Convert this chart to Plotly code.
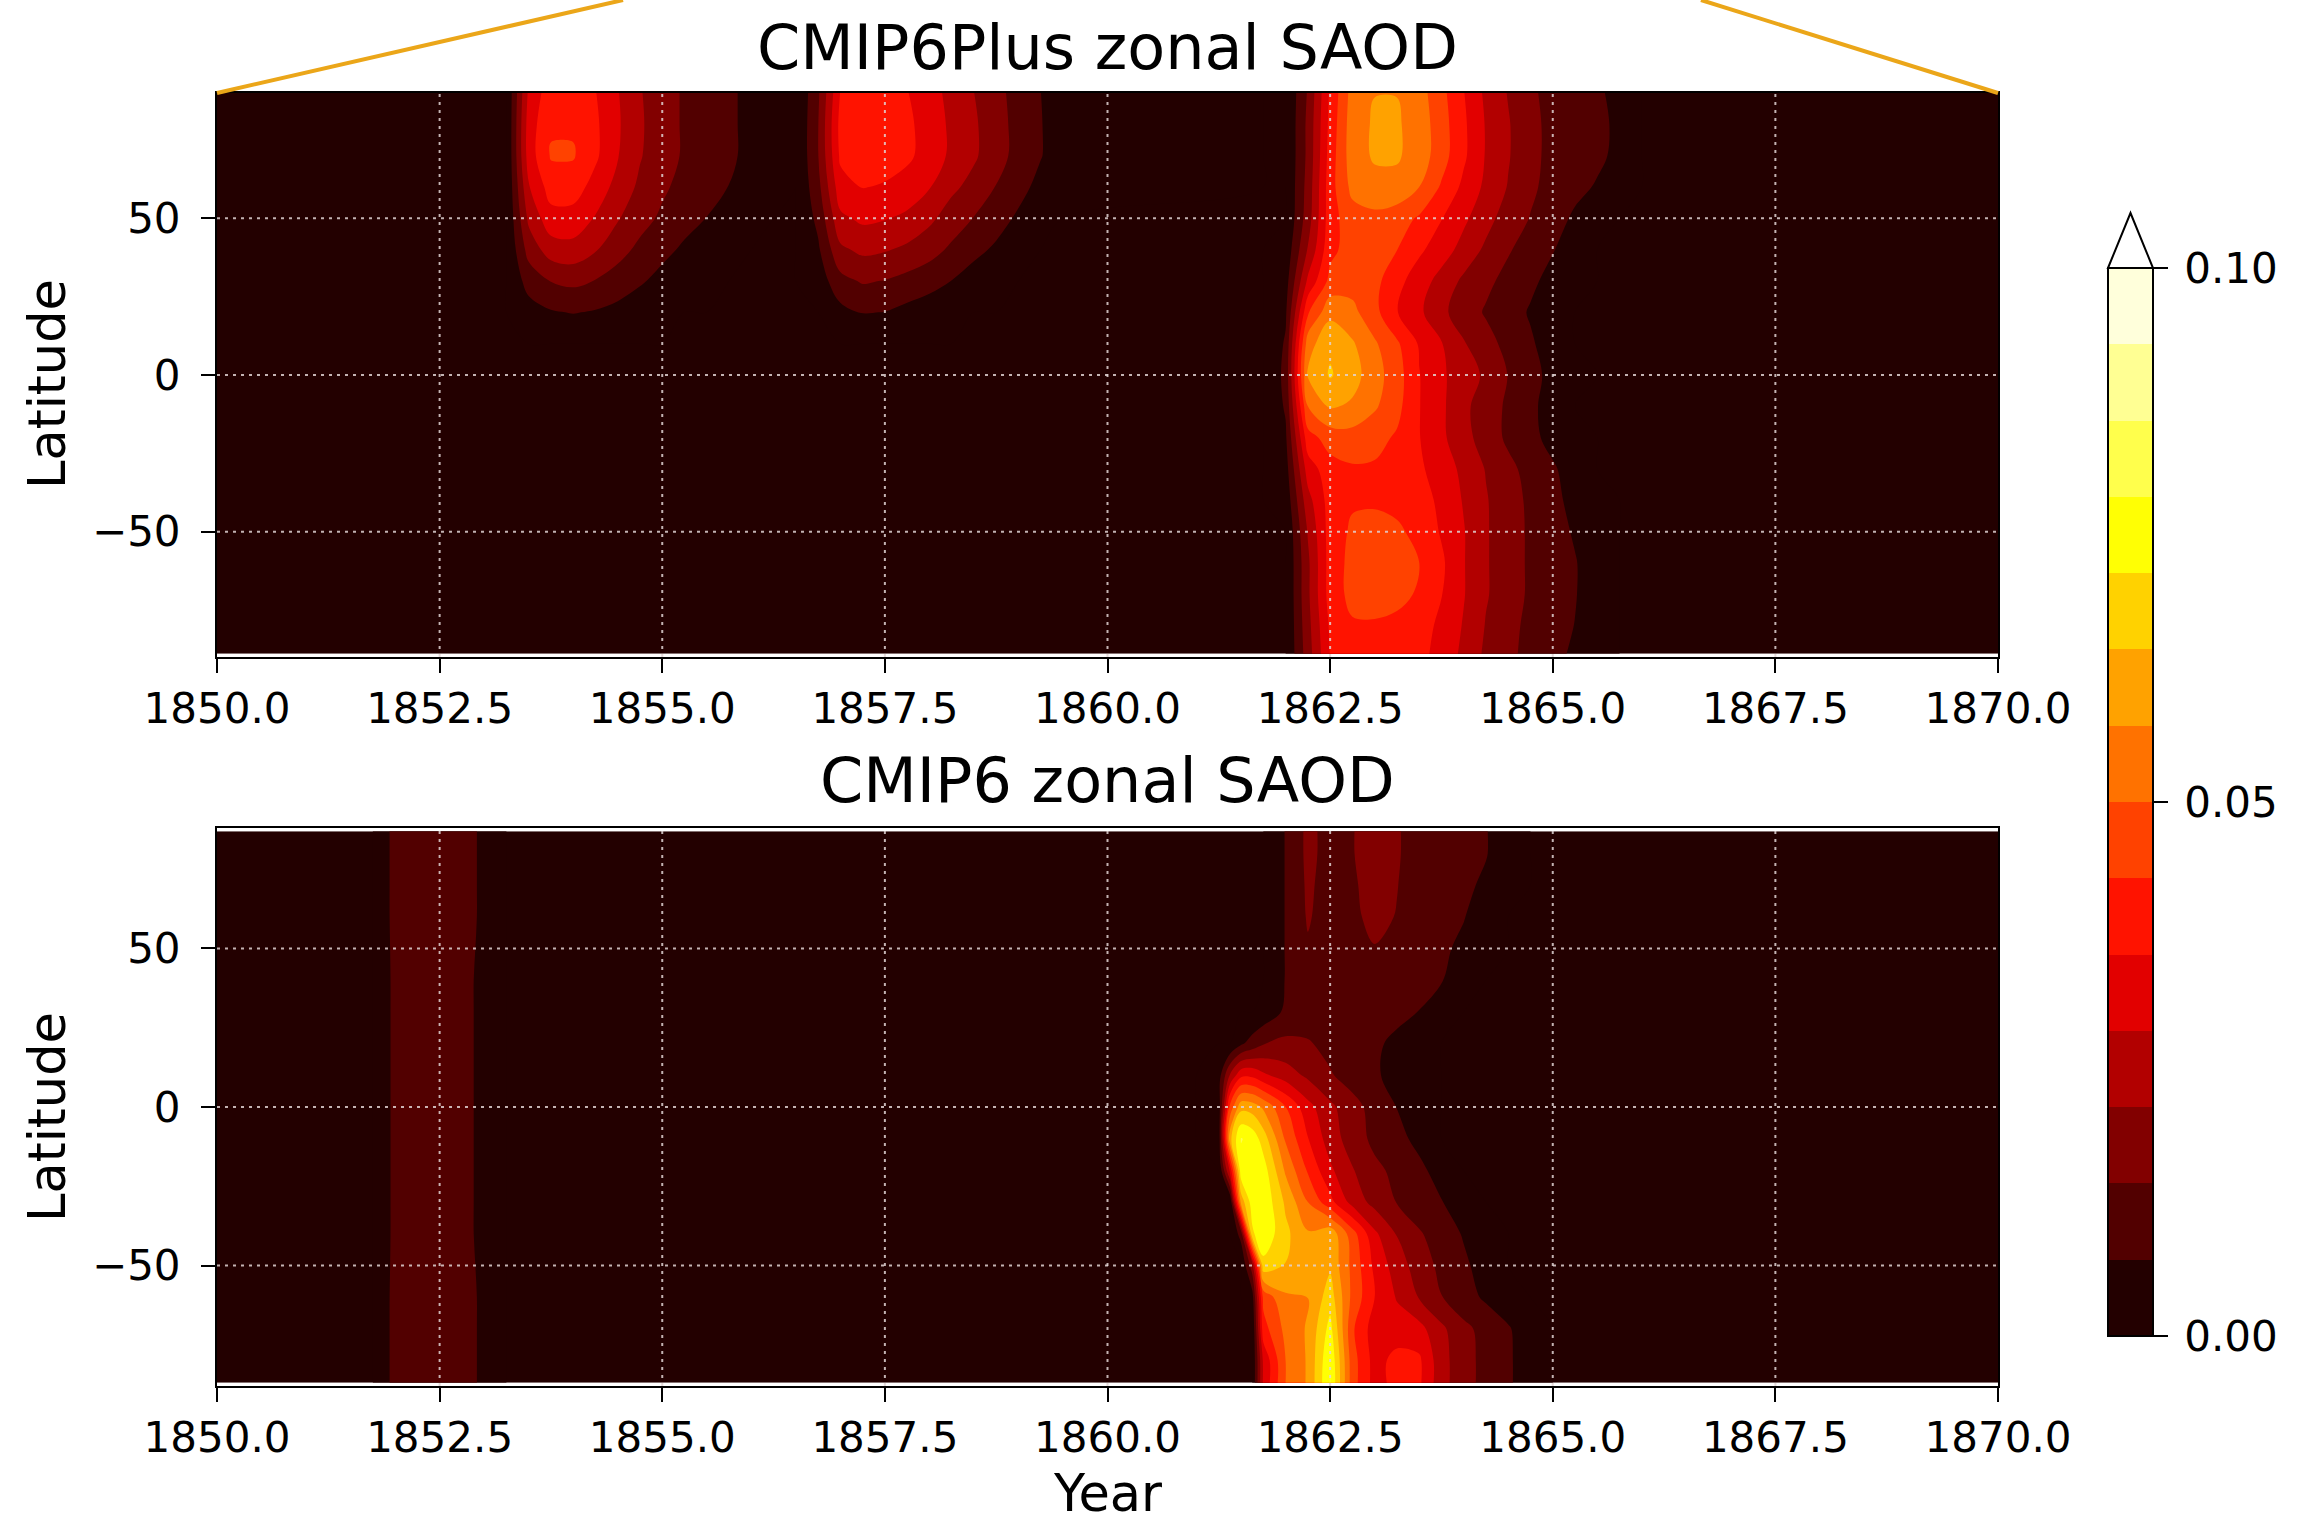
import plotly.graph_objects as go

W, H = 2300, 1525
FONT = "DejaVu Sans"

# ---------------- colour levels (matplotlib 'hot', 14 bands 0..0.1, extend max)
LEVEL_STEP = 0.1 / 14
BAND_COLORS = ["#230000", "#520000", "#820000", "#b20000", "#e20000", "#ff1300", "#ff4200",
               "#ff7200", "#ffa200", "#ffd200", "#ffff04", "#ffff4c", "#ffff93", "#ffffdb"]
CBAR_TICKS = [0.0, 0.05, 0.1]
CBAR_TICKTEXT = ["\u20090.00", "\u20090.05", "\u20090.10"]

YEAR_TICKS = [1850.0, 1852.5, 1855.0, 1857.5, 1860.0, 1862.5, 1865.0, 1867.5, 1870.0]
LAT_TICKS = [-50, 0, 50]

# ---------------- CMIP6Plus (top panel) ----------------
LAT_TOP = [90, 80, 70, 60, 50, 40, 30, 20, 10, 0, -10, -20, -30, -40, -50, -60, -70, -80, -89]

plus_years_a = [1853.25, 1853.5, 1853.75, 1854.0, 1854.25, 1854.5, 1854.75, 1855.0, 1855.25,
                1855.5, 1855.75, 1856.0, 1856.25]
plus_event_a = [  # rows lat 90 -> 20 (south of that: zero)
    [0, .030, .040, .040, .036, .029, .022, .017, .0135, .011, .0085, .005, .002],
    [0, .032, .042, .042, .037, .0295, .0225, .017, .0135, .011, .0085, .005, .002],
    [0, .032, .0435, .0435, .037, .029, .022, .017, .0135, .011, .0085, .005, .002],
    [0, .028, .039, .039, .033, .026, .020, .0155, .012, .0095, .007, .004, .001],
    [0, .023, .033, .033, .028, .022, .017, .013, .0095, .007, .0045, .002, 0],
    [0, .017, .025, .026, .022, .017, .0125, .009, .006, .004, .002, 0, 0],
    [0, .010, .0145, .016, .014, .011, .008, .005, .003, .001, 0, 0, 0],
    [0, .004, .0065, .0075, .0065, .005, .003, .001, 0, 0, 0, 0, 0],
]

plus_years_b = [1856.5, 1856.75, 1857.0, 1857.25, 1857.5, 1857.75, 1858.0, 1858.25, 1858.5,
                1858.75, 1859.0, 1859.25, 1859.5]
plus_event_b = [  # rows lat 90 -> 20
    [0, .013, .036, .039, .038, .036, .032, .026, .0215, .0165, .0115, .0072, .003],
    [0, .014, .038, .040, .039, .037, .033, .027, .0225, .017, .012, .0075, .003],
    [0, .014, .037, .040, .039, .037, .033, .027, .0225, .017, .012, .0075, .003],
    [0, .012, .033, .036, .035, .033, .029, .023, .019, .014, .0095, .005, .001],
    [0, .009, .027, .030, .029, .027, .023, .018, .014, .010, .006, .002, 0],
    [0, .006, .020, .023, .022, .020, .017, .013, .009, .006, .003, 0, 0],
    [0, .003, .012, .015, .014, .012, .010, .007, .004, .002, 0, 0, 0],
    [0, 0, .005, .0075, .007, .005, .003, .001, 0, 0, 0, 0, 0],
]

plus_years_c = [1861.75, 1862.0, 1862.25, 1862.5, 1862.75, 1863.0, 1863.25, 1863.5, 1863.75,
                1864.0, 1864.25, 1864.5, 1864.75, 1865.0, 1865.25, 1865.5, 1865.75, 1866.0]
plus_event_c = [  # rows lat 90 -> -89
    [0, 0, .015, .037, .053, .057, .057, .053, .045, .036, .027, .021, .0155, .012, .0095, .008, .0055, 0],
    [0, 0, .016, .038, .054, .058, .058, .054, .046, .037, .028, .022, .016, .0125, .010, .0085, .006, 0],
    [0, 0, .016, .039, .054, .058, .058, .054, .046, .037, .028, .022, .016, .0125, .010, .0085, .0055, 0],
    [0, 0, .017, .040, .052, .055, .055, .050, .042, .034, .027, .021, .0155, .012, .009, .0065, .002, 0],
    [0, 0, .018, .040, .047, .048, .046, .042, .036, .030, .024, .018, .014, .010, .006, .002, 0, 0],
    [0, .002, .022, .041, .046, .046, .043, .037, .032, .026, .020, .015, .011, .0075, .004, 0, 0, 0],
    [0, .004, .030, .045, .047, .045, .038, .032, .026, .020, .016, .012, .0085, .005, .001, 0, 0, 0],
    [0, .006, .042, .055, .052, .045, .036, .030, .023, .018, .0135, .010, .0065, .003, 0, 0, 0, 0],
    [0, .008, .054, .063, .058, .051, .044, .035, .029, .022, .017, .012, .008, .004, 0, 0, 0, 0],
    [0, .009, .058, .065, .060, .053, .046, .036, .030, .024, .0205, .014, .0095, .005, .001, 0, 0, 0],
    [0, .008, .050, .058, .056, .051, .045, .036, .030, .023, .018, .013, .0085, .0045, 0, 0, 0, 0],
    [0, .006, .040, .046, .047, .045, .042, .036, .030, .024, .018, .013, .009, .005, .001, 0, 0, 0],
    [0, .004, .032, .040, .042, .042, .040, .037, .032, .027, .021, .016, .012, .008, .004, 0, 0, 0],
    [0, .002, .026, .039, .042, .042, .041, .039, .034, .028, .022, .017, .013, .009, .005, .001, 0, 0],
    [0, 0, .022, .039, .044, .045, .044, .041, .035, .029, .022, .018, .013, .0095, .0065, .002, 0, 0],
    [0, 0, .020, .039, .045, .046, .045, .043, .037, .029, .022, .018, .013, .010, .0075, .004, 0, 0],
    [0, 0, .020, .039, .045, .046, .045, .042, .036, .029, .022, .018, .013, .010, .0075, .0035, 0, 0],
    [0, 0, .019, .037, .042, .042, .041, .039, .034, .028, .021, .017, .012, .0095, .007, .002, 0, 0],
    [0, 0, .018, .036, .040, .041, .040, .038, .033, .027, .020, .016, .012, .009, .006, .001, 0, 0],
]

# ---------------- CMIP6 (bottom panel) ----------------
LAT_BOT = [87, 80, 70, 60, 50, 40, 30, 20, 10, 0, -10, -20, -30, -40, -50, -60, -70, -80, -87]

cmip6_years_s = [1851.75, 1852.0, 1852.5, 1852.75, 1853.0, 1853.25]
cmip6_stripe = [
    [0, .0095, .0105, .0095, .006, 0],
    [0, .0095, .0105, .0095, .006, 0],
    [0, .0095, .0105, .0095, .006, 0],
    [0, .0095, .0105, .0095, .006, 0],
    [0, .0092, .0102, .0092, .0058, 0],
    [0, .009, .010, .009, .0055, 0],
    [0, .009, .010, .009, .0055, 0],
    [0, .009, .010, .009, .0055, 0],
    [0, .009, .010, .009, .0055, 0],
    [0, .009, .010, .009, .0055, 0],
    [0, .009, .010, .009, .0055, 0],
    [0, .009, .010, .009, .0055, 0],
    [0, .009, .010, .009, .0055, 0],
    [0, .009, .010, .009, .0055, 0],
    [0, .0092, .0102, .0092, .0058, 0],
    [0, .0095, .0105, .0095, .006, 0],
    [0, .0095, .0105, .0095, .006, 0],
    [0, .0095, .0105, .0095, .006, 0],
    [0, .0095, .0105, .0095, .006, 0],
]

cmip6_years_d = [1861.0, 1861.25, 1861.375, 1861.5, 1861.625, 1861.75, 1862.0, 1862.25, 1862.5,
                 1862.75, 1863.0, 1863.25, 1863.5, 1863.75, 1864.0, 1864.25, 1864.5, 1864.75, 1865.0]
cmip6_event_d = [  # rows lat 87 -> -87
    [0, 0, 0, 0, 0, 0, .0075, .016, .012, .014, .017, .015, .011, .010, .009, .0075, .003, 0, 0],
    [0, 0, 0, 0, 0, 0, .0075, .016, .012, .014, .017, .015, .011, .010, .009, .0075, .003, 0, 0],
    [0, 0, 0, 0, 0, 0, .0075, .0155, .0115, .0135, .0165, .0145, .011, .0095, .0085, .006, .002, 0, 0],
    [0, 0, 0, 0, 0, 0, .0075, .015, .011, .013, .016, .014, .011, .0095, .0075, .003, 0, 0, 0],
    [0, 0, 0, 0, 0, 0, .0075, .0135, .0105, .012, .014, .0125, .010, .0085, .0055, .001, 0, 0, 0],
    [0, 0, 0, 0, 0, 0, .0075, .012, .010, .011, .012, .011, .0095, .0075, .004, 0, 0, 0, 0],
    [0, 0, 0, 0, 0, .002, .0085, .010, .010, .0095, .009, .0085, .007, .003, 0, 0, 0, 0, 0],
    [0, 0, 0, .006, .010, .014, .016, .015, .012, .009, .008, .006, .002, 0, 0, 0, 0, 0, 0],
    [0, .004, .022, .034, .034, .030, .025, .020, .015, .011, .008, .005, .001, 0, 0, 0, 0, 0, 0],
    [0, .003, .045, .062, .061, .056, .043, .031, .023, .017, .0115, .007, .002, 0, 0, 0, 0, 0, 0],
    [0, .003, .062, .079, .076, .068, .049, .036, .025, .018, .0125, .0095, .005, 0, 0, 0, 0, 0, 0],
    [0, 0, .030, .076, .077, .075, .056, .042, .030, .022, .016, .0125, .009, .004, 0, 0, 0, 0, 0],
    [0, 0, 0, .060, .075, .077, .063, .050, .038, .026, .019, .014, .0105, .0075, .003, 0, 0, 0, 0],
    [0, 0, 0, .010, .070, .077, .066, .058, .062, .046, .030, .021, .015, .011, .0065, .002, 0, 0, 0],
    [0, 0, 0, 0, .018, .069, .064, .058, .063, .048, .034, .025, .018, .0125, .0085, .004, 0, 0, 0],
    [0, 0, 0, 0, .004, .045, .056, .057, .068, .048, .036, .028, .021, .0145, .010, .006, .002, 0, 0],
    [0, 0, 0, 0, 0, .040, .052, .058, .074, .044, .032, .032, .031, .023, .016, .012, .008, .002, 0],
    [0, 0, 0, 0, 0, .030, .050, .058, .078, .046, .033, .038, .037, .024, .017, .012, .0085, .002, 0],
    [0, 0, 0, 0, 0, .030, .050, .058, .079, .046, .033, .038, .037, .024, .017, .012, .0085, .002, 0],
]


def padded(rows, n_rows):
    n_cols = len(rows[0])
    return rows + [[0.0] * n_cols for _ in range(n_rows - len(rows))]


ea = padded(plus_event_a, len(LAT_TOP))
eb = padded(plus_event_b, len(LAT_TOP))
top_years = [1850.0] + plus_years_a + plus_years_b + plus_years_c + [1870.0]
top_z = [[0.0] + a + b + c + [0.0] for a, b, c in zip(ea, eb, plus_event_c)]

bot_years = [1850.0] + cmip6_years_s + cmip6_years_d + [1870.0]
bot_z = [[0.0] + s + d + [0.0] for s, d in zip(cmip6_stripe, cmip6_event_d)]

# ascending latitude order
top_lat, top_z = LAT_TOP[::-1], top_z[::-1]
bot_lat, bot_z = LAT_BOT[::-1], bot_z[::-1]

# stepped colour scale
n_bands = len(BAND_COLORS)
colorscale = []
for i, c in enumerate(BAND_COLORS):
    colorscale.append([i / n_bands, c])
    colorscale.append([(i + 1) / n_bands, c])

contours = dict(start=0.0, end=0.1, size=LEVEL_STEP, coloring="fill", showlines=False)

# ---------------- layout geometry (pixels) ----------------
X0, X1 = 217, 1998
TOP_Y0, TOP_Y1 = 93, 657
BOT_Y0, BOT_Y1 = 828, 1386
CB_X0, CB_X1, CB_TOP, CB_BOT, CB_TIP = 2108, 2153, 268, 1336, 213


def px(x):
    return x / W


def py(y):
    return 1 - y / H


fig = go.Figure()
fig.add_trace(go.Contour(
    x=top_years, y=top_lat, z=top_z, zmin=0, zmax=0.1, autocontour=False,
    contours=contours, colorscale=colorscale, line=dict(width=0, smoothing=1),
    hoverinfo="skip", xaxis="x", yaxis="y", showscale=True,
    colorbar=dict(
        x=px(CB_X0), xanchor="left", xref="paper", xpad=0,
        y=py(CB_BOT), yanchor="bottom", yref="paper", ypad=0,
        len=(CB_BOT - CB_TOP) / H, lenmode="fraction",
        thickness=CB_X1 - CB_X0, thicknessmode="pixels",
        outlinewidth=2, outlinecolor="black", borderwidth=0,
        ticks="outside", ticklen=14, tickwidth=2, tickcolor="black",
        tickvals=CBAR_TICKS, ticktext=CBAR_TICKTEXT,
        tickfont=dict(family=FONT, size=42, color="black"),
    ),
))
fig.add_trace(go.Contour(
    x=bot_years, y=bot_lat, z=bot_z, zmin=0, zmax=0.1, autocontour=False,
    contours=contours, colorscale=colorscale, line=dict(width=0, smoothing=1),
    hoverinfo="skip", xaxis="x2", yaxis="y2", showscale=False,
))

axis_common = dict(
    showgrid=False, zeroline=False, showline=True, mirror=True, linecolor="black", linewidth=2,
    ticks="outside", ticklen=14, tickwidth=2, tickcolor="black",
    tickfont=dict(family=FONT, size=42, color="black"),
)
xticktext = [f"{v:.1f}" for v in YEAR_TICKS]

fig.update_layout(
    width=W, height=H, margin=dict(l=0, r=0, t=0, b=0, autoexpand=False),
    paper_bgcolor="white", plot_bgcolor="white", showlegend=False,
    font=dict(family=FONT, color="black"),
    xaxis=dict(domain=[px(X0), px(X1)], range=[1850, 1870], anchor="y",
               tickvals=YEAR_TICKS, ticktext=xticktext, ticklabelstandoff=0, **axis_common),
    yaxis=dict(domain=[py(TOP_Y1), py(TOP_Y0)], range=[-90, 90], anchor="x",
               tickvals=LAT_TICKS, ticklabelstandoff=12, **axis_common),
    xaxis2=dict(domain=[px(X0), px(X1)], range=[1850, 1870], anchor="y2",
                tickvals=YEAR_TICKS, ticktext=xticktext, ticklabelstandoff=0, **axis_common),
    yaxis2=dict(domain=[py(BOT_Y1), py(BOT_Y0)], range=[-88, 88], anchor="x2",
                tickvals=LAT_TICKS, ticklabelstandoff=12, **axis_common),
)

# dotted grid drawn above the filled contours
grid_line = dict(color="rgba(225,212,212,0.85)", width=2, dash="3px,5px")
shapes = []
for xa, ya in (("x", "y"), ("x2", "y2")):
    for v in YEAR_TICKS[1:-1]:
        shapes.append(dict(type="line", xref=xa, yref=f"{ya} domain", x0=v, x1=v, y0=0, y1=1,
                           layer="above", line=grid_line))
    for v in LAT_TICKS:
        shapes.append(dict(type="line", xref=f"{xa} domain", yref=ya, x0=0, x1=1, y0=v, y1=v,
                           layer="above", line=grid_line))

# colorbar 'extend max' arrow
shapes.append(dict(
    type="path", xref="paper", yref="paper",
    path=f"M {px(CB_X0)} {py(CB_TOP)} L {px((CB_X0 + CB_X1) / 2)} {py(CB_TIP)} L {px(CB_X1)} {py(CB_TOP)} Z",
    fillcolor="white", line=dict(color="black", width=2), layer="above"))

# zoom-indicator lines (orange) from the top panel corners
orange = dict(color="#EBA619", width=4)
shapes.append(dict(type="line", xref="paper", yref="paper", x0=px(X0), y0=py(TOP_Y0),
                   x1=px(623), y1=1.0, line=orange, layer="above"))
shapes.append(dict(type="line", xref="paper", yref="paper", x0=px(X1), y0=py(TOP_Y0),
                   x1=px(1701), y1=1.0, line=orange, layer="above"))
fig.update_layout(shapes=shapes)

xc = px((X0 + X1) / 2)
annotations = [
    dict(text="CMIP6Plus zonal SAOD", x=xc, y=py(48), yanchor="middle", size=62),
    dict(text="CMIP6 zonal SAOD", x=xc, y=py(780), yanchor="middle", size=62),
    dict(text="Year", x=xc, y=0.0, yanchor="bottom", size=51),
]
annotations = [dict(text=a["text"], x=a["x"], y=a["y"], xref="paper", yref="paper",
                    xanchor="center", yanchor=a["yanchor"], showarrow=False,
                    font=dict(family=FONT, size=a["size"], color="black")) for a in annotations]
for yc in (384, 1117):
    annotations.append(dict(text="Latitude", x=px(47), y=py(yc), xref="paper", yref="paper",
                            xanchor="center", yanchor="middle", showarrow=False, textangle=-90,
                            font=dict(family=FONT, size=51, color="black")))
fig.update_layout(annotations=annotations)

fig.write_html("out.html")
